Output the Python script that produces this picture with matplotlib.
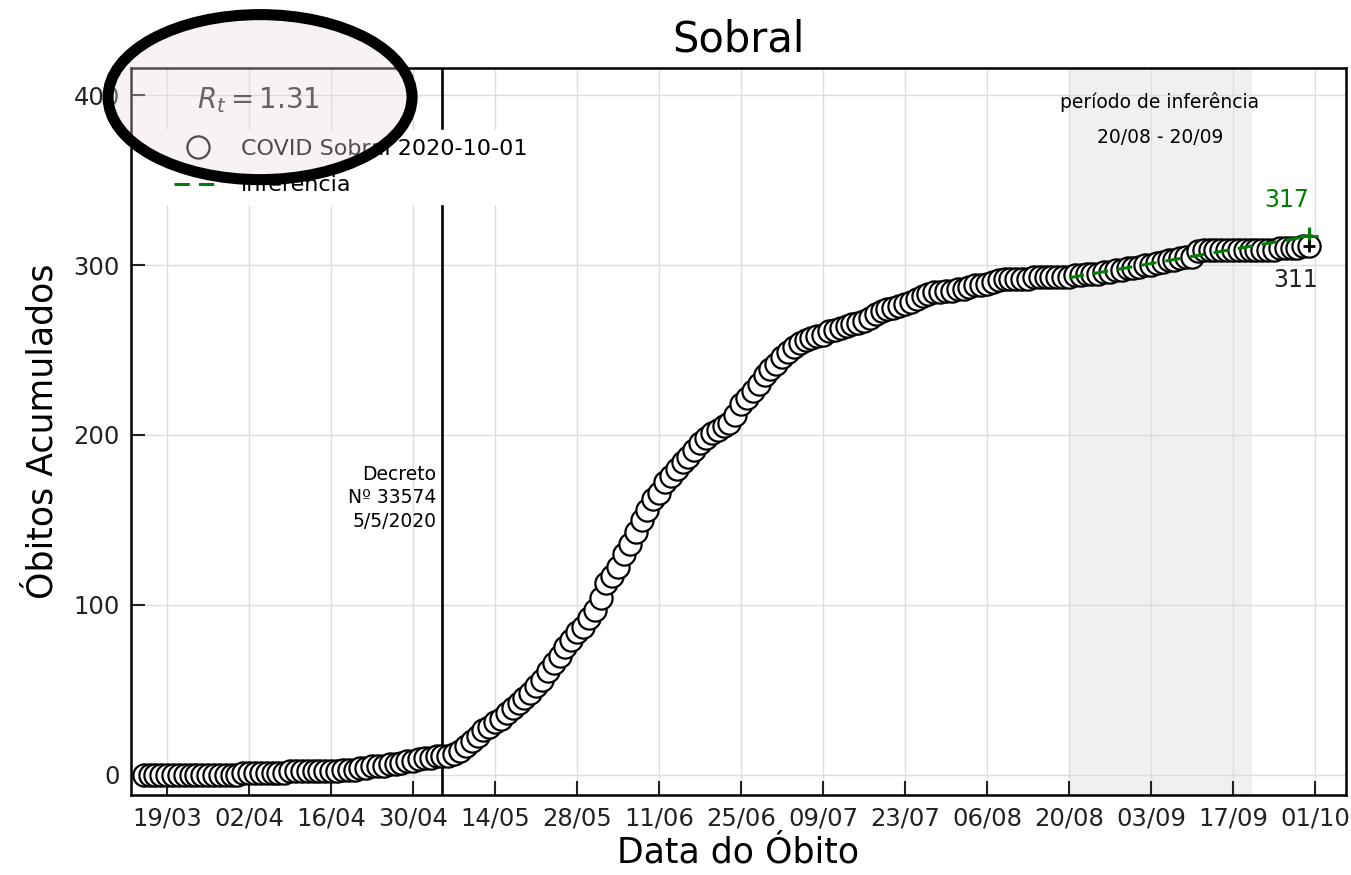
import matplotlib
matplotlib.use("Agg")
import matplotlib.pyplot as plt
import matplotlib.dates as mdates
from matplotlib.patches import Ellipse
import pandas as pd

# cumulative deaths, one value per day starting 15/03/2020
start_date = "2020-03-15"
deaths = (
    [0] * 17 + [1] * 8 + [2] * 9 +
    [3, 3, 3, 4, 4, 5, 5, 5, 6, 6, 7, 8, 8, 9, 10, 10, 11, 11, 11, 12, 14,
     17, 20, 23, 26,
     28, 31, 33, 36, 39, 42, 45, 48, 52, 56, 61, 66, 70, 75, 79, 84, 87, 92,
     97, 104, 113, 117, 122, 130, 136, 143, 150, 156, 162, 166, 172, 176, 180,
     184, 187, 191, 195, 198, 201, 203, 205, 207, 212, 218, 222, 226, 230,
     235, 239, 242, 246, 249, 252, 254, 256, 257, 258, 259, 261, 262, 263,
     264, 265, 266, 267, 269, 271, 273, 274, 275, 276, 277, 278, 280, 282,
     283, 284, 284, 285, 285, 286, 286, 287, 288, 288, 289, 290, 291, 292,
     292, 292, 292, 292, 293, 293, 293, 293, 293, 293, 293, 294, 294, 295,
     295, 295, 296, 296, 297, 297, 298, 298, 299, 300, 300, 301, 302, 303,
     303, 304, 305, 305, 308, 309] +
    [309] * 12 + [310, 310, 310, 310, 311, 311]
)
dates = pd.date_range(start_date, periods=len(deaths), freq="D")

# fitted curve over the inference window (start / end)
fit_dates = pd.to_datetime(["2020-08-20", "2020-09-30"])
fit_values = [292.5, 317]

decree_date = pd.Timestamp("2020-05-05")
window = (pd.Timestamp("2020-08-20"), pd.Timestamp("2020-09-20"))
rt_value = 1.31

fig = plt.figure(figsize=(13.51, 8.75), dpi=100)
ax = fig.add_axes([0.097, 0.0914, 0.8993, 0.8309])

ax.grid(True, color="#dddddd", linewidth=1.0, zorder=0)
ax.axvspan(window[0], window[1], color="#f0f0f0", zorder=0.5)
ax.axvline(decree_date, color="black", linewidth=1.9, zorder=3)

ax.plot(dates, deaths, "o", markersize=16, markerfacecolor="white",
        markeredgecolor="black", markeredgewidth=1.6, zorder=4,
        label="COVID Sobral 2020-10-01")
ax.plot(fit_dates, fit_values, "--", color="green", linewidth=2.2,
        dashes=(5, 3), zorder=5, label="inferência")
ax.plot(fit_dates[-1], fit_values[-1], "+", color="green", markersize=13,
        markeredgewidth=2.2, zorder=6)
ax.plot(dates[-1], deaths[-1], "+", color="black", markersize=8,
        markeredgewidth=2, zorder=6)

ax.text(fit_dates[-1], fit_values[-1] + 21, f"{fit_values[-1]}", color="green",
        fontsize=17, ha="right", va="center")
ax.text(dates[-1] + pd.Timedelta(days=1.5), deaths[-1] - 20, f"{deaths[-1]}",
        color="#222222", fontsize=17, ha="right", va="center")

ax.text(decree_date - pd.Timedelta(days=1), 163, "Decreto\nNº 33574\n5/5/2020",
        fontsize=13.5, ha="right", va="center", linespacing=1.3)
mid = window[0] + (window[1] - window[0]) / 2
ax.text(mid, 396, "período de inferência", fontsize=13.5, ha="center", va="center")
ax.text(mid, 375, "20/08 - 20/09", fontsize=13.5, ha="center", va="center")

ax.text(0.054, 0.956, rf"$R_t = {rt_value}$", transform=ax.transAxes,
        fontsize=20, color="#222222", va="center", ha="left")
leg = ax.legend(loc="upper left", bbox_to_anchor=(0.028, 0.915), borderaxespad=0,
                fontsize=16, frameon=True, framealpha=1, edgecolor="white",
                fancybox=False, handlelength=2.2, labelspacing=0.75)
leg.set_zorder(7)

ax.set_xlim(pd.Timestamp("2020-03-12 20:00"), pd.Timestamp("2020-10-06 07:00"))
ax.set_ylim(-12, 416)
ax.set_yticks([0, 100, 200, 300, 400])
ax.set_xticks(pd.date_range("2020-03-19", "2020-10-01", freq="14D"))
ax.xaxis.set_major_formatter(mdates.DateFormatter("%d/%m"))
ax.tick_params(direction="in", length=10, width=1.5, labelsize=17.5,
               colors="#222222", pad=8)
for s in ax.spines.values():
    s.set_linewidth(1.8)

ax.set_title("Sobral", fontsize=30, pad=12)
ax.set_xlabel("Data do Óbito", fontsize=25, labelpad=4)
ax.set_ylabel("Óbitos Acumulados", fontsize=25, labelpad=10)

# highlight ellipse over the R_t annotation
ell = Ellipse((0.1925, 0.889), 0.225, 0.1886, transform=fig.transFigure,
              facecolor=(0.93, 0.86, 0.86, 0.35), edgecolor="black",
              linewidth=8, zorder=20)
fig.patches.append(ell)

fig.savefig("out.png", dpi=100)
